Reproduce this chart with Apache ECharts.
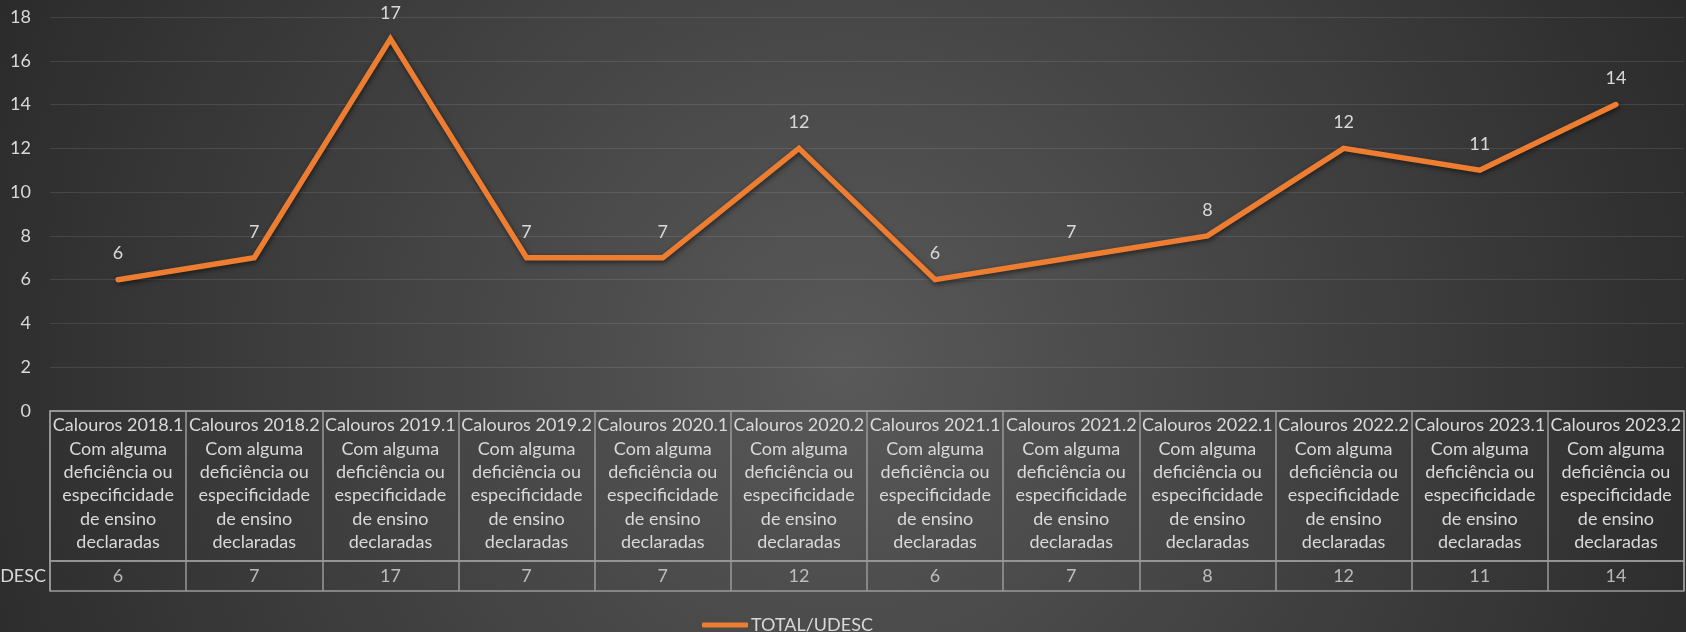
<!DOCTYPE html>
<html>
<head>
<meta charset="utf-8">
<script src="https://cdn.jsdelivr.net/npm/echarts@6/dist/echarts.min.js"></script>
<style>
  html, body { margin: 0; padding: 0; }
  body {
    width: 1686px; height: 632px;
    background: radial-gradient(circle at 50% 58%, #595959 0%, #2b2b2b 100%);
  }
  #chart { width: 1686px; height: 632px; }
</style>
</head>
<body>
<div id="chart"></div>
<script>
  // semestres e valores
  var semesters = ['2018.1','2018.2','2019.1','2019.2','2020.1','2020.2','2021.1','2021.2','2022.1','2022.2','2023.1','2023.2'];
  var totalUdesc = [6, 7, 17, 7, 7, 12, 6, 7, 8, 12, 11, 14];
  var seriesName = 'TOTAL/UDESC';
  var headerSuffix = 'Com alguma\ndeficiência ou\nespecificidade\nde ensino\ndeclaradas';

  var categories = semesters.map(function (s) {
    return 'Calouros ' + s + '\n' + headerSuffix;
  });

  var txt = '#d9d9d9';
  var border = '#9a9a9a';
  var font = 'Lato';
  var fs = 18;

  var myChart = echarts.init(document.getElementById('chart'));
  var option = {
    backgroundColor: 'transparent',
    textStyle: { fontFamily: font },
    animation: false,
    grid: [
      { left: 50, right: 2, top: 17, bottom: 221, outerBoundsMode: 'none', containLabel: false },
      { left: 50, right: 2, top: 411, bottom: 71, show: true, borderColor: border, borderWidth: 1.5, outerBoundsMode: 'none', containLabel: false },
      { left: 50, right: 2, top: 561, bottom: 41, show: true, borderColor: border, borderWidth: 1.5, outerBoundsMode: 'none', containLabel: false }
    ],
    xAxis: [
      {
        gridIndex: 0,
        type: 'category',
        data: categories,
        boundaryGap: true,
        axisLine: { show: true, lineStyle: { color: border, width: 1.5 } },
        axisTick: { show: false },
        axisLabel: {
          interval: 0,
          margin: 3,
          color: txt,
          fontFamily: font,
          fontSize: fs,
          lineHeight: 23.3,
          align: 'center'
        }
      },
      {
        gridIndex: 1,
        type: 'category',
        data: categories,
        boundaryGap: true,
        axisLine: { show: false },
        axisTick: { show: false },
        axisLabel: { show: false },
        splitLine: { show: true, interval: 0, lineStyle: { color: border, width: 1.5 } }
      },
      {
        gridIndex: 2,
        type: 'category',
        data: categories,
        boundaryGap: true,
        axisLine: { show: false },
        axisTick: { show: false },
        axisLabel: { show: false },
        splitLine: { show: true, interval: 0, lineStyle: { color: border, width: 1.5 } }
      }
    ],
    yAxis: [
      {
        gridIndex: 0,
        type: 'value',
        min: 0,
        max: 18,
        interval: 2,
        axisLine: { show: false },
        axisTick: { show: false },
        axisLabel: { color: txt, fontFamily: font, fontSize: fs, margin: 19 },
        splitLine: { lineStyle: { color: 'rgba(255,255,255,0.1)', width: 1 } }
      },
      {
        gridIndex: 1,
        type: 'value',
        show: false
      },
      {
        gridIndex: 2,
        type: 'category',
        data: [seriesName],
        axisLine: { show: false },
        axisTick: { show: false },
        axisLabel: { color: txt, fontFamily: font, fontSize: fs, margin: 4 },
        splitLine: { show: false }
      }
    ],
    legend: {
      data: [{ name: seriesName, icon: 'roundRect' }],
      left: 697,
      top: 611,
      itemWidth: 46,
      itemHeight: 5,
      itemGap: 4,
      textStyle: { color: txt, fontFamily: font, fontSize: fs, padding: [0, 0, 0, -2] }
    },
    series: [
      {
        name: seriesName,
        type: 'line',
        xAxisIndex: 0,
        yAxisIndex: 0,
        data: totalUdesc,
        symbol: 'circle',
        symbolSize: 2,
        showSymbol: true,
        itemStyle: { color: '#ED7D31' },
        lineStyle: {
          color: '#ED7D31',
          width: 5.5,
          cap: 'round',
          join: 'miter',
          shadowColor: 'rgba(0,0,0,0.55)',
          shadowBlur: 5,
          shadowOffsetX: 1,
          shadowOffsetY: 2
        },
        label: {
          show: true,
          position: 'top',
          distance: 16,
          color: txt,
          fontFamily: font,
          fontSize: fs
        },
        z: 5
      },
      {
        name: 'tabela',
        type: 'scatter',
        xAxisIndex: 2,
        yAxisIndex: 2,
        data: totalUdesc.map(function (v, i) { return [i, 0, v]; }),
        symbolSize: 1,
        itemStyle: { color: 'transparent' },
        label: {
          show: true,
          position: 'inside',
          color: txt,
          fontFamily: font,
          fontSize: fs,
          formatter: function (p) { return String(p.value[2]); }
        },
        silent: true
      }
    ]
  };
  myChart.setOption(option);
</script>
</body>
</html>
